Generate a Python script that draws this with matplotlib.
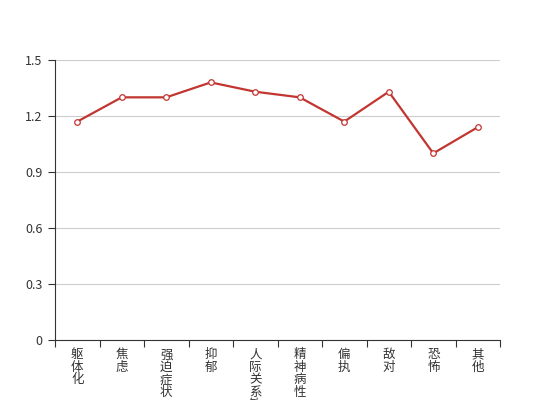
import matplotlib
matplotlib.use("Agg")
import matplotlib.pyplot as plt
import numpy as np

plt.rcParams['font.family'] = ['Noto Sans CJK SC', 'DejaVu Sans']

# data
categories = ["躯体化", "焦虑", "强迫症状", "抑郁", "人际关系敏感", "精神病性", "偏执", "敌对", "恐怖", "其他"]
values = [1.17, 1.30, 1.30, 1.38, 1.33, 1.30, 1.17, 1.33, 1.00, 1.14]
yticks = [0, 0.3, 0.6, 0.9, 1.2, 1.5]
ytick_labels = ["0", "0.3", "0.6", "0.9", "1.2", "1.5"]

fig = plt.figure(figsize=(5.56, 4), dpi=100)
ax = fig.add_axes([55 / 556, 0.15, 445 / 556, 0.70])

x = np.arange(len(categories))
ax.plot(x, values, color="#c23531", linewidth=1.6, marker="o", markersize=4,
        markerfacecolor="white", markeredgecolor="#c23531", markeredgewidth=0.9, zorder=3)

ax.set_xlim(-0.5, len(categories) - 0.5)
ax.set_ylim(0, 1.5)
ax.set_yticks(yticks)
ax.set_yticklabels(ytick_labels)
ax.yaxis.grid(True, color="#cccccc", linewidth=0.8)
ax.set_axisbelow(True)

# category boundary ticks, labels at centers
ax.set_xticks(np.arange(len(categories) + 1) - 0.5)
ax.set_xticklabels([])
ax.set_xticks(x, minor=True)
ax.set_xticklabels(["\n".join(c) for c in categories], minor=True,
                   va="top", linespacing=0.95)
ax.tick_params(axis="x", which="minor", length=0, pad=6, labelsize=9, labelcolor="#333333")
ax.tick_params(axis="x", which="major", length=5, color="#333333")
ax.tick_params(axis="y", length=5, color="#333333", labelsize=9, labelcolor="#333333", pad=4)

for s in ["top", "right"]:
    ax.spines[s].set_visible(False)
ax.spines["left"].set_color("#333333")
ax.spines["bottom"].set_color("#333333")

fig.savefig("out.png", dpi=100)
